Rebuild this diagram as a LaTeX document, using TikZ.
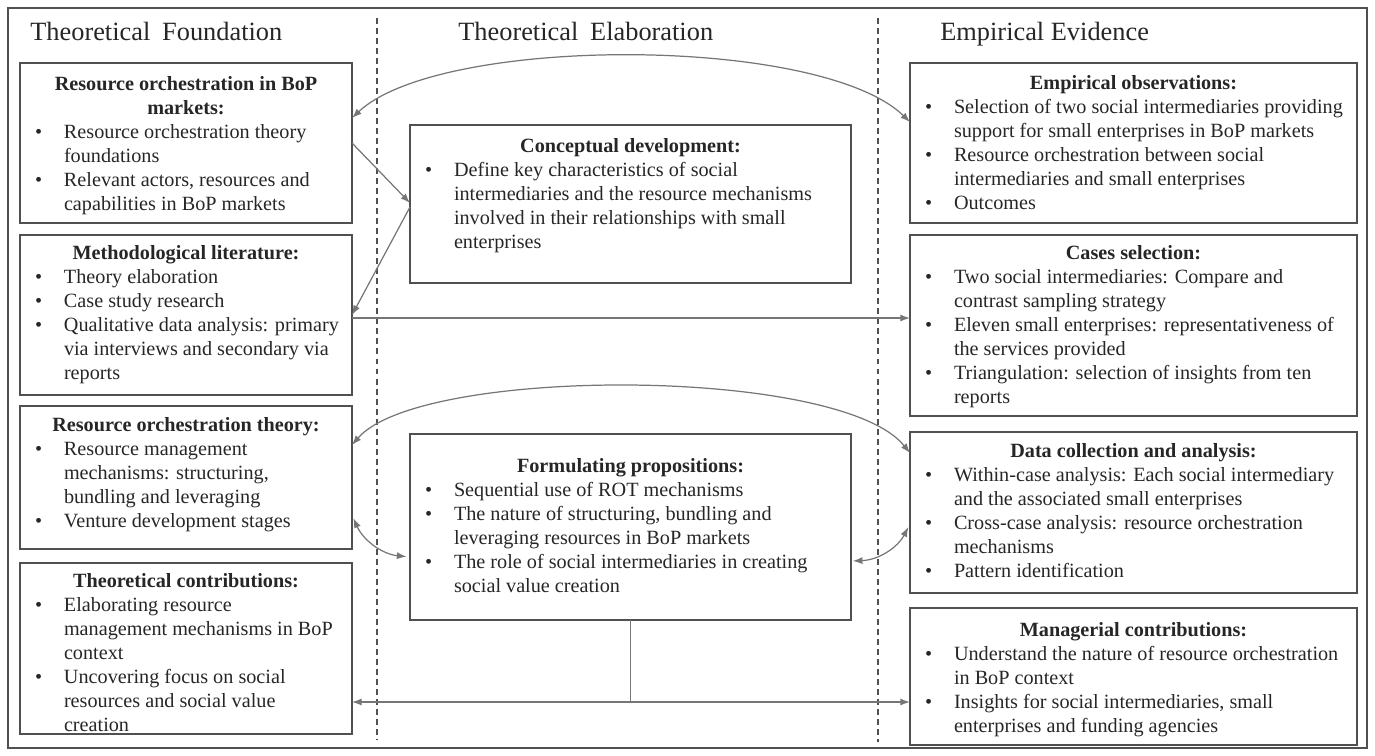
\documentclass[tikz,border=0pt]{standalone}
\usepackage{fontspec}
\setmainfont{Liberation Serif}
\usetikzlibrary{arrows.meta,calc}

% one drawing unit
\newdimen\pxu \pxu=0.02cm

\definecolor{ink}{HTML}{262626}
\definecolor{framegray}{HTML}{505050}
\definecolor{wire}{HTML}{767676}

% fixed-size panel with top-aligned content: width, height, top padding, body
\newcommand{\panelbox}[4]{\parbox[c][#2\pxu][t]{#1\pxu}{\vspace*{#3\pxu}#4}}
% bold centred panel title
\newcommand{\ptitle}[1]{{\centering\bfseries\strut#1\par}}
% bulleted entry with hanging indent; lines are split with \newline
\newcommand{\pitem}[1]{\hangindent=44\pxu\hangafter=1\noindent\hspace*{15\pxu}\makebox[29\pxu][l]{\textbullet}#1\par}

\begin{document}
\begin{tikzpicture}[x=0.02cm, y=-0.02cm,
  panel/.style={draw=framegray, line width=1.1pt, inner sep=0pt, outer sep=0pt,
    anchor=north west, font=\fontsize{11.5pt}{13.6pt}\selectfont, text=ink},
  hdr/.style={anchor=base west, inner sep=0pt, font=\fontsize{15pt}{18pt}\selectfont, text=ink},
  conn/.style={draw=wire, line width=0.7pt},
  divider/.style={draw=framegray, line width=0.8pt, dash pattern=on 3.4pt off 2.3pt},
  >={Latex[length=5.5pt,width=4pt]}]

\useasboundingbox (0,0) rectangle (1375,755);
\draw[framegray, line width=1pt] (8,8) rectangle (1367,748);

% column dividers
\draw[divider] (377,18) -- (377,740);
\draw[divider] (878,18) -- (878,742);

% column headings
\node[hdr] (hfound) at (30,40) {Theoretical\hspace{0.45em}Foundation};
\node[hdr] (helab) at (458,40) {Theoretical\hspace{0.45em}Elaboration};
\node[hdr] (hemp) at (940,40) {Empirical Evidence};

% left column
\node[panel] (l1) at (20,63) {\panelbox{332}{160}{11}{%
  \ptitle{Resource orchestration in BoP\\markets:}
  \pitem{Resource orchestration theory\newline foundations}
  \pitem{Relevant actors, resources and\newline capabilities in BoP markets}}};

\node[panel] (l2) at (20,235) {\panelbox{332}{160}{8}{%
  \ptitle{Methodological literature:}
  \pitem{Theory elaboration}
  \pitem{Case study research}
  \pitem{Qualitative data analysis: primary\newline via interviews and secondary via\newline reports}}};

\node[panel] (l3) at (20,406) {\panelbox{332}{143}{9}{%
  \ptitle{Resource orchestration theory:}
  \pitem{Resource management\newline mechanisms: structuring,\newline bundling and leveraging}
  \pitem{Venture development stages}}};

\node[panel] (l4) at (20,563) {\panelbox{332}{171}{8}{%
  \ptitle{Theoretical contributions:}
  \pitem{Elaborating resource\newline management mechanisms in BoP\newline context}
  \pitem{Uncovering focus on social\newline resources and social value\newline creation}}};

% middle column
\node[panel] (m1) at (410,125) {\panelbox{441}{158}{11}{%
  \ptitle{Conceptual development:}
  \pitem{Define key characteristics of social\newline intermediaries and the resource mechanisms\newline involved in their relationships with small\newline enterprises}}};

\node[panel] (m2) at (410,434) {\panelbox{441}{186}{22}{%
  \ptitle{Formulating propositions:}
  \pitem{Sequential use of ROT mechanisms}
  \pitem{The nature of structuring, bundling and\newline leveraging resources in BoP markets}
  \pitem{The role of social intermediaries in creating\newline social value creation}}};

% right column
\node[panel] (r1) at (910,63) {\panelbox{447}{160}{10}{%
  \ptitle{Empirical observations:}
  \pitem{Selection of two social intermediaries providing\newline support for small enterprises in BoP markets}
  \pitem{Resource orchestration between social\newline intermediaries and small enterprises}
  \pitem{Outcomes}}};

\node[panel] (r2) at (910,235) {\panelbox{447}{181}{8}{%
  \ptitle{Cases selection:}
  \pitem{Two social intermediaries: Compare and\newline contrast sampling strategy}
  \pitem{Eleven small enterprises: representativeness of\newline the services provided}
  \pitem{Triangulation: selection of insights from ten\newline reports}}};

\node[panel] (r3) at (910,432) {\panelbox{447}{161}{9}{%
  \ptitle{Data collection and analysis:}
  \pitem{Within-case analysis: Each social intermediary\newline and the associated small enterprises}
  \pitem{Cross-case analysis: resource orchestration\newline mechanisms}
  \pitem{Pattern identification}}};

\node[panel] (r4) at (910,608) {\panelbox{447}{137}{12}{%
  \ptitle{Managerial contributions:}
  \pitem{Understand the nature of resource orchestration\newline in BoP context}
  \pitem{Insights for social intermediaries, small\newline enterprises and funding agencies}}};

% connectors
\draw[conn,<->] (r1.west |- 0,122) .. controls (820,35) and (440,35) .. (l1.east |- 0,118);
\draw[conn,->] (l1.east |- 0,143) -- (m1.west |- 0,203);
\draw[conn,->] (m1.west |- 0,207) -- (l2.east |- 0,315);
\draw[conn,->] (l2.east |- 0,318) -- (r2.west |- 0,318);

\draw[conn,<->] (l3.east |- 0,445) .. controls (420,366) and (840,366) .. (r3.west |- 0,453);
\draw[conn,<->,shorten <=2pt,shorten >=2pt] (l3.east |- 0,515) to[bend right=30] (m2.west |- 0,557);
\draw[conn,<->,shorten <=1pt,shorten >=2pt] (m2.east |- 0,561) to[bend right=30] (r3.west |- 0,524);

\coordinate (fork) at (m2.south |- 0,702);
\draw[conn] (m2.south) -- (fork);
\draw[conn,->] (fork) -- (l4.east |- fork);
\draw[conn,->] (fork) -- (r4.west |- fork);
\end{tikzpicture}
\end{document}
